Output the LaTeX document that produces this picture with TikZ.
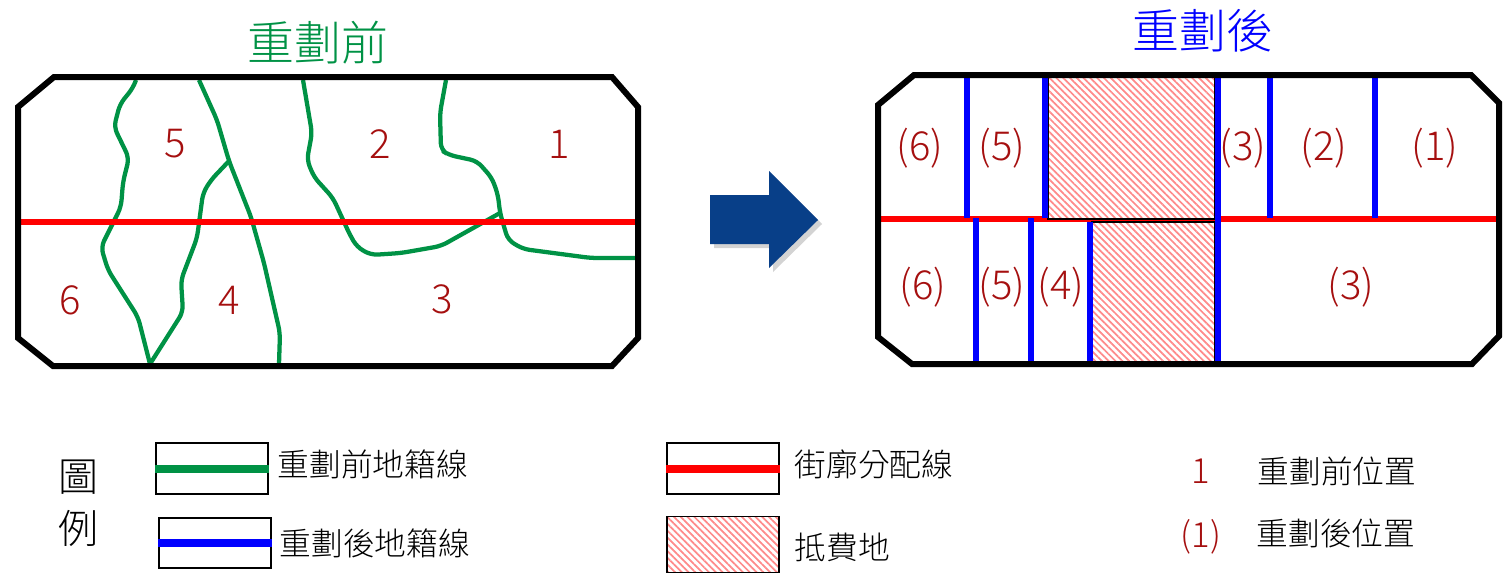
\documentclass[tikz,border=0pt]{standalone}
\usepackage{fontspec}
\usepackage{tikz}
\usetikzlibrary{patterns.meta,shadows}
\setmainfont{Noto Sans CJK TC}[UprightFont=* Light]
\definecolor{landgreen}{HTML}{009245}
\definecolor{numred}{HTML}{A50F0F}
\definecolor{arrowblue}{HTML}{083F88}
\definecolor{hatchred}{HTML}{FF8A8A}
\tikzset{
    frameline/.style={line width=4.5pt, line join=miter},
    oldline/.style={landgreen, line width=3.2pt, line join=round, rounded corners=5pt},
    newline/.style={blue, line width=4.4pt},
    roadline/.style={red, line width=4.8pt},
    hatched/.style={pattern={Lines[angle=-45,distance=3.6pt,line width=1.3pt]}, pattern color=hatchred},
    oldtitle/.style={text=landgreen, font=\fontsize{35.2}{36}\selectfont},
    newtitle/.style={text=blue, font=\fontsize{35.2}{36}\selectfont},
    num/.style={text=numred, font=\fontsize{30}{30}\selectfont, inner sep=0pt},
    legendbox/.style={draw, line width=1.4pt, minimum width=84pt, minimum height=38pt, inner sep=0pt},
    legendtext/.style={anchor=west, inner sep=0pt, font=\fontsize{23.8}{24}\selectfont},
}
\begin{document}
\begin{tikzpicture}[x=0.75pt, y=-0.75pt]
    \useasboundingbox (0,0) rectangle (1509,576);

    % before
    \node [oldtitle] (titleold) at (318,43) {重劃前};
    \draw [landgreen, line width=1pt] (20,222) -- (20,338);
    \draw [oldline] (136,80) -- (133,88) -- (120,104) -- (114,127) -- (129,158) -- (123,182) -- (121,207) -- (101,247) -- (108,270) -- (138,317) -- (150,364);
    \draw [oldline] (150,364) -- (183,312) -- (181,280) -- (197,238) -- (203,193) -- (211,180) -- (229,161);
    \draw [oldline] (199,80) -- (217,120) -- (229,161) -- (251,217) -- (264,263) -- (280,333) -- (279,364);
    \draw [oldline] (303,80) -- (312,133) -- (307,160) -- (314,177) -- (333,198) -- (350,235) -- (357,247) -- (371,255) -- (401,253) -- (441,246) -- (500,213);
    \draw [oldline] (446,80) -- (440,113) -- (441,150) -- (449,155) -- (477,161) -- (492,178) -- (498,195) -- (500,213) -- (508,240) -- (523,249) -- (591,258) -- (636,258);
    \draw [roadline] (21,222) -- (636,222);
    \draw [frameline] (54,77) -- (612,77) -- (638,107) -- (638,338) -- (612,366) -- (53,366) -- (18,338) -- (18,107) -- cycle;
    \node [num] (a5) at (175,144) {5};
    \node [num] (a2) at (380,144) {2};
    \node [num] (a1) at (559,144) {1};
    \node [num] (a6) at (70,300) {6};
    \node [num] (a4) at (229,300) {4};
    \node [num] (a3) at (442,299) {3};

    % arrow
    \fill [arrowblue, drop shadow={shadow xshift=3pt, shadow yshift=-3pt, opacity=0.35}] (710,195) -- (769,195) -- (769,171) -- (818,220) -- (769,268) -- (769,244) -- (710,244) -- cycle;

    % after
    \node [newtitle] (titlenew) at (1203,31) {重劃後};
    \draw [roadline] (880,219) -- (1497,219);
    \fill [white] (1048,78) rectangle (1215,219);
    \fill [white] (1092,222) rectangle (1215,362);
    \fill [hatched] (1048,78) rectangle (1215,219);
    \fill [hatched] (1092,222) rectangle (1215,362);
    \draw [line width=1.6pt] (1048,78) -- (1048,219) -- (1215,219) -- (1215,78);
    \draw [line width=1.4pt] (1092,362) -- (1092,222) -- (1215,222) -- (1215,362);
    \foreach \xpos in {967,1045,1270,1375} {
        \draw [newline] (\xpos,78) -- (\xpos,218);
    }
    \foreach \xpos in {976,1031} {
        \draw [newline] (\xpos,218) -- (\xpos,364);
    }
    \draw [newline] (1090,222) -- (1090,366);
    \draw [newline, line width=4pt] (1218,78) -- (1218,362);
    \draw [frameline] (914,75) -- (1471,75) -- (1499,103) -- (1499,336) -- (1472,364) -- (912,364) -- (878,337) -- (878,105) -- cycle;
    \node [num] (b6) at (920,148) {(6)};
    \node [num] (b5) at (1002,148) {(5)};
    \node [num] (b3) at (1243,148) {(3)};
    \node [num] (b2) at (1324,148) {(2)};
    \node [num] (b1) at (1435,148) {(1)};
    \node [num] (c6) at (923,287) {(6)};
    \node [num] (c5) at (1002,287) {(5)};
    \node [num] (c4) at (1061,287) {(4)};
    \node [num] (c3) at (1351,287) {(3)};

    % legend
    \node [font=\fontsize{30}{30}\selectfont] (tu) at (78,477) {圖};
    \node [font=\fontsize{30}{30}\selectfont] (li) at (78,528) {例};
    \node [legendbox] (boxold) at (212,468.5) {};
    \draw [landgreen, line width=6pt] (boxold.west) -- (boxold.east);
    \node [legendtext] (textold) at (277.5,464) {重劃前地籍線};
    \node [legendbox] (boxnew) at (215,543) {};
    \draw [blue, line width=6pt] (boxnew.west) -- (boxnew.east);
    \node [legendtext] (textnew) at (279.5,543) {重劃後地籍線};
    \node [legendbox] (boxroad) at (723,468.5) {};
    \draw [red, line width=6pt] (boxroad.west) -- (boxroad.east);
    \node [legendtext] (textroad) at (794.5,464) {街廓分配線};
    \node [legendbox, minimum height=42pt, hatched] (boxfee) at (723,544.5) {};
    \node [legendtext] (textfee) at (794.5,547) {抵費地};
    \node [num, font=\fontsize{26}{26}\selectfont] (keya) at (1201,471) {1};
    \node [legendtext] (textkeya) at (1257.5,471) {重劃前位置};
    \node [num, font=\fontsize{26}{26}\selectfont] (keyb) at (1201,537) {(1)};
    \node [legendtext] (textkeyb) at (1256.5,533) {重劃後位置};
\end{tikzpicture}
\end{document}
